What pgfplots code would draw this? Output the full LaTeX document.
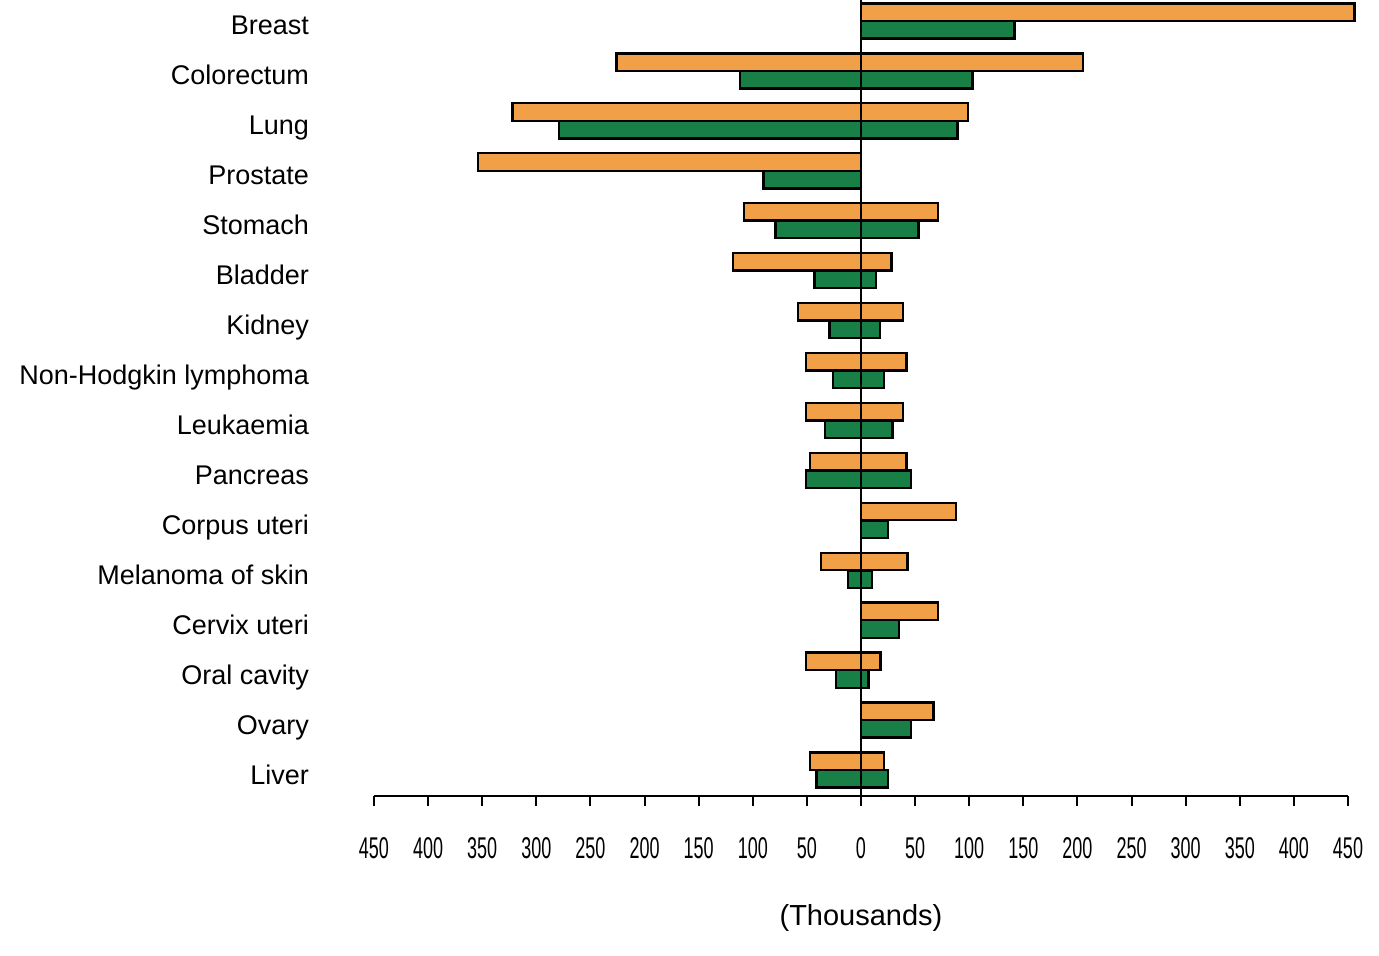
\documentclass[border=0pt]{standalone}
\usepackage{pgfplots}
\pgfplotsset{compat=1.18}
\usepackage{fontspec}
\setmainfont{Liberation Sans}
\definecolor{inc}{RGB}{242,160,72}
\definecolor{mort}{RGB}{24,128,70}
\newcommand\nl[1]{\scalebox{0.6}[1]{#1}}
\begin{document}
\begin{tikzpicture}
\useasboundingbox (-187pt,-80pt) rectangle (502.5pt,398pt);
\begin{axis}[
  at={(0pt,0pt)}, anchor=south west,
  scale only axis, width=487pt, height=398pt,
  xmin=-450, xmax=450, ymin=-0.52, ymax=15.42,
  clip=false,
  xbar, bar width=8.75pt,
  axis lines*=left,
  y axis line style={draw=none},
  x axis line style={line width=1pt},
  ytick style={draw=none},
  xtick style={line width=1pt, black},
  tick align=outside,
  major tick length=5pt,
  xtick={-450,-400,-350,-300,-250,-200,-150,-100,-50,0,50,100,150,200,250,300,350,400,450},
  xticklabels={\nl{450},\nl{400},\nl{350},\nl{300},\nl{250},\nl{200},\nl{150},\nl{100},\nl{50},\nl{0},\nl{50},\nl{100},\nl{150},\nl{200},\nl{250},\nl{300},\nl{350},\nl{400},\nl{450}},
  xticklabel style={font=\fontsize{15}{17}\selectfont, yshift=-12pt},
  ytick={0,...,15},
  yticklabels={Liver,Ovary,Oral cavity,Cervix uteri,Melanoma of skin,Corpus uteri,Pancreas,Leukaemia,Non-Hodgkin lymphoma,Kidney,Bladder,Stomach,Prostate,Lung,Colorectum,Breast},
  yticklabel style={font=\fontsize{13.5}{15}\selectfont, anchor=east, text height=9.5pt, text depth=2.5pt, xshift=-24pt, yshift=-3.5pt},
  xlabel={(Thousands)},
  xlabel style={font=\fontsize{14.5}{16}\selectfont, yshift=-16pt},
]
% incidence, males (left)
\addplot[fill=inc, draw=black, line width=1.2pt, bar shift=4.4pt] coordinates {
 (-226,14) (-322,13) (-354,12) (-108,11) (-118,10) (-58,9) (-51,8) (-51,7) (-47,6) (-37,4) (-51,2) (-47,0)};
% incidence, females (right)
\addplot[fill=inc, draw=black, line width=1.2pt, bar shift=4.4pt] coordinates {
 (456,15) (205,14) (99,13) (71,11) (28,10) (39,9) (42,8) (39,7) (42,6) (88,5) (43,4) (71,3) (18,2) (67,1) (21,0)};
% mortality, males (left)
\addplot[fill=mort, draw=black, line width=1.2pt, bar shift=-4.4pt] coordinates {
 (-112,14) (-279,13) (-90,12) (-79,11) (-43,10) (-29,9) (-26,8) (-33,7) (-51,6) (-12,4) (-23,2) (-41,0)};
% mortality, females (right)
\addplot[fill=mort, draw=black, line width=1.2pt, bar shift=-4.4pt] coordinates {
 (142,15) (103,14) (89,13) (53,11) (14,10) (17.5,9) (21,8) (29,7) (46,6) (25,5) (10,4) (35,3) (7,2) (46,1) (25,0)};
\draw[line width=1pt] (axis cs:0,-0.52) -- (axis cs:0,15.45);
\end{axis}
\end{tikzpicture}
\end{document}
